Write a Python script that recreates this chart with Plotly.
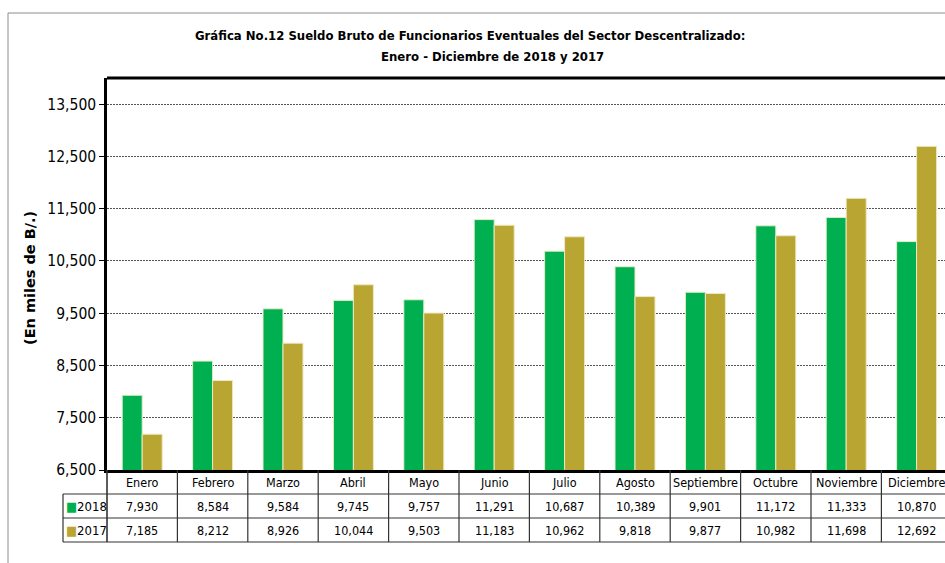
import plotly.graph_objects as go

months = ["Enero", "Febrero", "Marzo", "Abril", "Mayo", "Junio", "Julio",
          "Agosto", "Septiembre", "Octubre", "Noviembre", "Diciembre"]
v2018 = [7930, 8584, 9584, 9745, 9757, 11291, 10687, 10389, 9901, 11172, 11333, 10870]
v2017 = [7185, 8212, 8926, 10044, 9503, 11183, 10962, 9818, 9877, 10982, 11698, 12692]
years = ["2018", "2017"]
ytick_vals = [6500, 7500, 8500, 9500, 10500, 11500, 12500, 13500]

GREEN = "#00B050"
GOLD = "#B9A532"
NARROW = "Liberation Sans Narrow, Arial Narrow, DejaVu Sans Condensed, sans-serif"

W, H = 945, 563
L, R, T, B = 107, 0, 78, 93
PW = W - L - R
PH = H - T - B


def px_x(X):
    return (X - L) / PW


def px_y(Y):
    return (H - B - Y) / PH


xidx = list(range(len(months)))

fig = go.Figure()
fig.add_trace(go.Bar(x=xidx, y=v2018, name=years[0], hoverinfo="skip",
                     marker=dict(color=GREEN, line=dict(color="#E6EDC8", width=1))))
fig.add_trace(go.Bar(x=xidx, y=v2017, name=years[1], hoverinfo="skip",
                     marker=dict(color=GOLD, line=dict(color="#EDE8C0", width=1))))

shapes = []
annotations = []

# outer frame
shapes.append(dict(type="line", xref="paper", yref="paper", x0=px_x(8), x1=1.05, y0=px_y(13), y1=px_y(13),
                   line=dict(color="#8c8c8c", width=1)))
shapes.append(dict(type="line", xref="paper", yref="paper", x0=px_x(8), x1=px_x(8), y0=px_y(13), y1=px_y(580),
                   line=dict(color="#8c8c8c", width=1)))
# plot top border
shapes.append(dict(type="line", xref="paper", yref="paper", x0=0, x1=1.01, y0=1, y1=1,
                   line=dict(color="black", width=3)))

# table rows
row_bounds = [470, 494, 518, 542]
for Yb in row_bounds[1:]:
    shapes.append(dict(type="line", xref="paper", yref="paper", x0=px_x(63), x1=1.01, y0=px_y(Yb), y1=px_y(Yb),
                       line=dict(color="#333333", width=1.2)))
# legend column left and right borders
shapes.append(dict(type="line", xref="paper", yref="paper", x0=px_x(63), x1=px_x(63), y0=px_y(494), y1=px_y(542),
                   line=dict(color="#333333", width=1.2)))
shapes.append(dict(type="line", xref="paper", yref="paper", x0=0, x1=0, y0=px_y(470), y1=px_y(542),
                   line=dict(color="#333333", width=1.6)))
for i in xidx[1:]:
    shapes.append(dict(type="line", xref="x", yref="paper", x0=i - 0.5, x1=i - 0.5, y0=px_y(470), y1=px_y(542),
                       line=dict(color="#333333", width=1.2)))

rows = [("label", months), (years[0], v2018), (years[1], v2017)]
centers = [482.5, 506.5, 530.5]
for (kind, vals), cy in zip(rows, centers):
    for i, v in zip(xidx, vals):
        txt = v if isinstance(v, str) else f"{v:,}"
        annotations.append(dict(x=i, y=px_y(cy), xref="x", yref="paper", text=txt, showarrow=False,
                                xanchor="center", yanchor="middle",
                                font=dict(family=NARROW, size=12.5, color="black")))

# legend cells
for yr, col, cy in [(years[0], GREEN, 506.5), (years[1], GOLD, 530.5)]:
    annotations.append(dict(x=px_x(64), y=px_y(cy), xref="paper", yref="paper",
                            text=f"<span style='color:{col}'>■</span>{yr}", showarrow=False,
                            xanchor="left", yanchor="middle",
                            font=dict(family=NARROW, size=13, color="black")))

# titles
annotations.append(dict(x=px_x(470), y=px_y(35), xref="paper", yref="paper",
                        text="<b>Gráfica No.12 Sueldo Bruto de Funcionarios Eventuales del Sector Descentralizado:</b>",
                        showarrow=False, xanchor="center", yanchor="middle",
                        font=dict(family=NARROW, size=13, color="black")))
annotations.append(dict(x=px_x(492), y=px_y(56), xref="paper", yref="paper",
                        text="<b>Enero - Diciembre de 2018 y 2017</b>",
                        showarrow=False, xanchor="center", yanchor="middle",
                        font=dict(family=NARROW, size=13, color="black")))
# y title
annotations.append(dict(x=px_x(30), y=px_y(278), xref="paper", yref="paper",
                        text="<b>(En miles de B/.)</b>", textangle=-90,
                        showarrow=False, xanchor="center", yanchor="middle",
                        font=dict(family="DejaVu Sans, Liberation Sans, sans-serif", size=14.5, color="black")))

fig.update_layout(
    width=W, height=H,
    margin=dict(l=L, r=R, t=T, b=B, pad=0),
    paper_bgcolor="white", plot_bgcolor="white",
    barmode="group", bargap=0.432, bargroupgap=0,
    showlegend=False, hovermode=False,
    shapes=shapes, annotations=annotations,
    xaxis=dict(range=[-0.5, -0.5 + PW / 70.4], showticklabels=False, ticks="", showgrid=False,
               zeroline=False, showline=True, linecolor="black", linewidth=2.5, fixedrange=True),
    yaxis=dict(range=[6500, 14000], tickvals=ytick_vals, tickformat=",d",
               ticks="outside", ticklen=5, tickcolor="black", tickwidth=1,
               tickfont=dict(family=NARROW, size=15.5, color="black"),
               showgrid=True, gridcolor="#555555", gridwidth=1, griddash="2px,1px",
               zeroline=False, showline=True, linecolor="black", linewidth=2.5),
)

fig.write_html("out.html", config={"displayModeBar": False},
               post_script="document.body.style.margin='0';document.body.style.padding='0';"
                           "document.body.style.overflow='hidden';")
